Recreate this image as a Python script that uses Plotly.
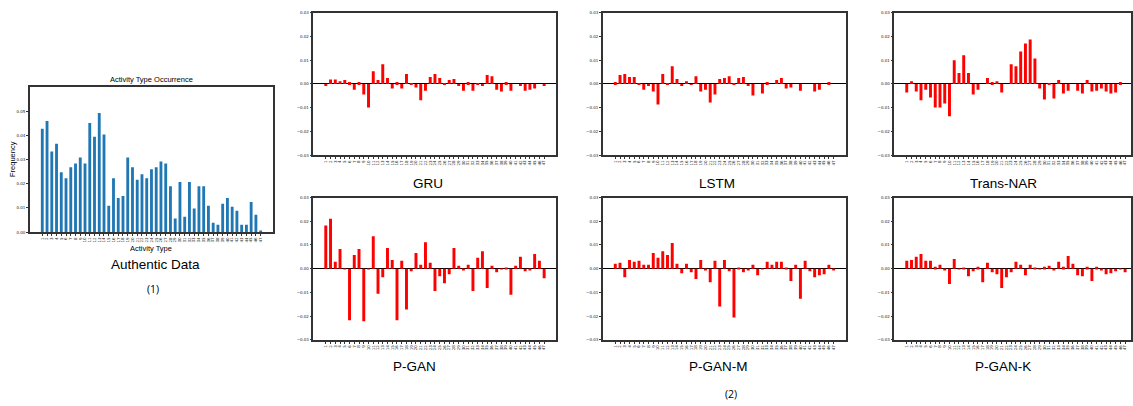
import plotly.graph_objects as go

categories = list(range(1, 48))
tick_labels = [str(c) for c in categories]

authentic = [0.0427, 0.0459, 0.0333, 0.0365, 0.0247, 0.0223, 0.0268, 0.0284, 0.0308, 0.0284,
             0.0451, 0.0394, 0.0492, 0.0404, 0.0109, 0.0223, 0.0141, 0.0149, 0.0308, 0.0268,
             0.0216, 0.0239, 0.0223, 0.0260, 0.0268, 0.0292, 0.0284, 0.0190, 0.0056, 0.0207,
             0.0064, 0.0207, 0.0098, 0.0190, 0.0190, 0.0109, 0.0039, 0.0031, 0.0117, 0.0141,
             0.0105, 0.0088, 0.0031, 0.0031, 0.0125, 0.0072, 0.0007]

gru = [-0.0007, 0.0019, 0.0019, 0.0012, 0.0017, 0.0008, -0.0024, 0.0008, -0.0044, -0.0099,
       0.0054, 0.0017, 0.0083, 0.0025, -0.0019, 0.0008, -0.0019, 0.0042, 0.0004, -0.0015,
       -0.0069, -0.0028, 0.0029, 0.0042, 0.0025, 0.0001, 0.0017, 0.0021, -0.0007, -0.0028,
       0.0008, -0.0028, 0.0004, -0.0007, 0.0038, 0.0033, -0.0024, -0.0032, 0.0008, -0.0028,
       0.0000, -0.0007, -0.0028, -0.0024, -0.0019, 0.0000, -0.0007]

lstm = [0.0008, 0.0038, 0.0042, 0.0029, 0.0029, 0.0004, -0.0024, -0.0007, -0.0032, -0.0086,
        0.0042, 0.0004, 0.0075, 0.0021, -0.0007, 0.0012, -0.0001, 0.0033, -0.0032, -0.0024,
        -0.0078, -0.0044, 0.0021, 0.0025, 0.0033, 0.0004, 0.0025, 0.0029, -0.0007, -0.0049,
        0.0000, -0.0040, 0.0008, 0.0000, 0.0017, 0.0025, -0.0019, -0.0015, 0.0000, -0.0028,
        0.0000, 0.0000, -0.0032, -0.0024, 0.0000, 0.0008, 0.0000]

trans_nar = [-0.0036, 0.0012, -0.0032, -0.0069, -0.0024, -0.0057, -0.0099, -0.0099, -0.0082, -0.0136,
             0.0100, 0.0046, 0.0121, 0.0046, -0.0044, -0.0024, 0.0000, 0.0025, 0.0008, 0.0012,
             -0.0036, 0.0000, 0.0083, 0.0075, 0.0137, 0.0171, 0.0188, 0.0108, -0.0019, -0.0065,
             0.0004, -0.0061, 0.0017, -0.0040, -0.0028, 0.0000, -0.0028, -0.0040, 0.0017, -0.0032,
             -0.0028, -0.0019, -0.0032, -0.0040, -0.0036, 0.0008, 0.0000]

p_gan = [0.0182, 0.0211, 0.0029, 0.0083, -0.0003, -0.0218, 0.0058, 0.0083, -0.0222, -0.0003,
         0.0137, -0.0106, -0.0036, 0.0087, 0.0037, -0.0218, 0.0033, -0.0172, -0.0011, 0.0066,
         0.0017, 0.0112, 0.0025, -0.0094, -0.0032, -0.0061, -0.0023, 0.0087, 0.0012, -0.0007,
         0.0017, -0.0094, 0.0046, 0.0074, -0.0081, 0.0012, -0.0015, -0.0002, 0.0004, -0.0110,
         0.0012, 0.0050, -0.0011, -0.0007, 0.0062, 0.0033, -0.0040]

p_gan_m = [0.0021, 0.0025, -0.0036, 0.0037, 0.0029, 0.0033, 0.0017, 0.0017, 0.0066, 0.0046,
           0.0074, 0.0058, 0.0108, 0.0021, -0.0019, 0.0021, -0.0015, -0.0044, 0.0037, -0.0004,
           -0.0057, 0.0033, -0.0160, 0.0037, -0.0011, -0.0206, 0.0004, -0.0015, -0.0007, 0.0017,
           -0.0028, -0.0003, 0.0029, 0.0017, 0.0029, 0.0029, 0.0004, -0.0052, 0.0017, -0.0127,
           0.0033, -0.0011, -0.0036, -0.0028, -0.0023, 0.0017, -0.0004]

p_gan_k = [0.0033, 0.0037, 0.0050, 0.0062, 0.0033, 0.0033, 0.0008, 0.0017, -0.0007, -0.0065,
           0.0041, -0.0003, 0.0004, -0.0032, -0.0011, 0.0008, -0.0057, 0.0025, -0.0015, -0.0023,
           -0.0081, -0.0036, -0.0015, 0.0029, 0.0017, -0.0028, 0.0017, 0.0004, -0.0003, 0.0008,
           0.0012, -0.0007, 0.0029, 0.0008, 0.0054, 0.0021, -0.0028, -0.0032, 0.0008, -0.0052,
           0.0008, -0.0007, -0.0023, -0.0019, -0.0011, -0.0003, -0.0015]

model_names = ["GRU", "LSTM", "Trans-NAR", "P-GAN", "P-GAN-M", "P-GAN-K"]
model_values = [gru, lstm, trans_nar, p_gan, p_gan_m, p_gan_k]

W, H = 1133, 406


def px_x(v):
    return v / W


def px_y(v):
    return 1 - v / H


fig = go.Figure()

# Left: authentic data
fig.add_trace(go.Bar(x=categories, y=authentic, marker_color="#1f77b4", marker_line_width=0,
                     width=0.6, xaxis="x", yaxis="y", showlegend=False))

col_left = [314, 604, 896]
row_top = [(10, 154), (197, 341)]
axis_w = 243
px_per_unit = 243 / 51.1
for i, (name, vals) in enumerate(zip(model_names, model_values)):
    k = i + 2
    fig.add_trace(go.Bar(x=categories, y=vals, marker_color="red", marker_line_width=0,
                         width=0.62, xaxis=f"x{k}", yaxis=f"y{k}", showlegend=False))

tick_font = dict(family="DejaVu Sans", size=4, color="#222")
layout = dict(
    width=W, height=H, margin=dict(l=0, r=0, t=0, b=0),
    paper_bgcolor="white", plot_bgcolor="white", bargap=0.3,
    font=dict(family="Liberation Sans", color="black"),
)

# left axis
layout["xaxis"] = dict(domain=[px_x(30), px_x(273)], range=[-1.6, 49.5], tickvals=categories,
                       ticktext=tick_labels, tickangle=-90, tickfont=tick_font,
                       showline=True, linecolor="#333", linewidth=1.5, mirror=True,
                       ticks="outside", ticklen=2, tickcolor="#333", showgrid=False,
                       zeroline=False, anchor="y")
layout["yaxis"] = dict(domain=[px_y(232), px_y(85)], range=[0, 0.06],
                       tickvals=[0, 0.01, 0.02, 0.03, 0.04, 0.05], tickformat=".2f",
                       tickfont=tick_font, showline=True, linecolor="#333", linewidth=1.5,
                       mirror=True, ticks="outside", ticklen=2, tickcolor="#333",
                       showgrid=False, zeroline=False, anchor="x")

for i in range(6):
    k = i + 2
    r, c = divmod(i, 3)
    left = col_left[c]
    right = min(left + axis_w, W)
    x_end = -1.6 + (right - left) / px_per_unit
    top, bot = row_top[r]
    layout[f"xaxis{k}"] = dict(domain=[px_x(left), px_x(right)], range=[-1.6, x_end],
                               tickvals=categories, ticktext=tick_labels, tickangle=-90,
                               tickfont=tick_font, showline=True, linecolor="#333",
                               linewidth=1.5, mirror=True, ticks="outside", ticklen=2,
                               tickcolor="#333", showgrid=False, zeroline=False,
                               anchor=f"y{k}")
    layout[f"yaxis{k}"] = dict(domain=[px_y(bot), px_y(top)], range=[-0.03, 0.03],
                               tickvals=[-0.03, -0.02, -0.01, 0, 0.01, 0.02, 0.03],
                               tickformat=".2f", tickfont=tick_font, showline=True,
                               linecolor="#333", linewidth=1.5, mirror=True,
                               ticks="outside", ticklen=2, tickcolor="#333",
                               showgrid=False, zeroline=True, zerolinecolor="black",
                               zerolinewidth=1.2, anchor=f"x{k}")

fig.update_layout(**layout)

annotations = [
    dict(text="Activity Type Occurrence", x=(30 + 273) / 2 / W, y=px_y(84), font=dict(size=7.5),
         yanchor="bottom"),
    dict(text="Activity Type", x=(30 + 273) / 2 / W, y=px_y(242), font=dict(size=7.5),
         yanchor="top"),
    dict(text="Frequency", x=px_x(12), y=px_y(158), font=dict(size=7.5), textangle=-90),
    dict(text="Authentic Data", x=px_x(156), y=px_y(265), font=dict(size=13.5)),
    dict(text="(1)", x=px_x(153), y=px_y(290), font=dict(size=10.5, family="Open Sans")),
    dict(text="(2)", x=px_x(732), y=px_y(396), font=dict(size=10.5, family="Open Sans")),
]
title_pos = [(429, 183), (718, 183), (1005, 183), (415, 368), (720, 368), (1005, 368)]
for name, (tx, ty) in zip(model_names, title_pos):
    annotations.append(dict(text=name, x=px_x(tx), y=px_y(ty), font=dict(size=13.5)))

for a in annotations:
    a.setdefault("yanchor", "middle")
    a.update(xref="paper", yref="paper", showarrow=False, xanchor="center")
fig.update_layout(annotations=annotations)

fig.write_html("out.html", config={"displayModeBar": False},
               post_script="document.body.style.margin='0';document.body.style.overflow='hidden';")
